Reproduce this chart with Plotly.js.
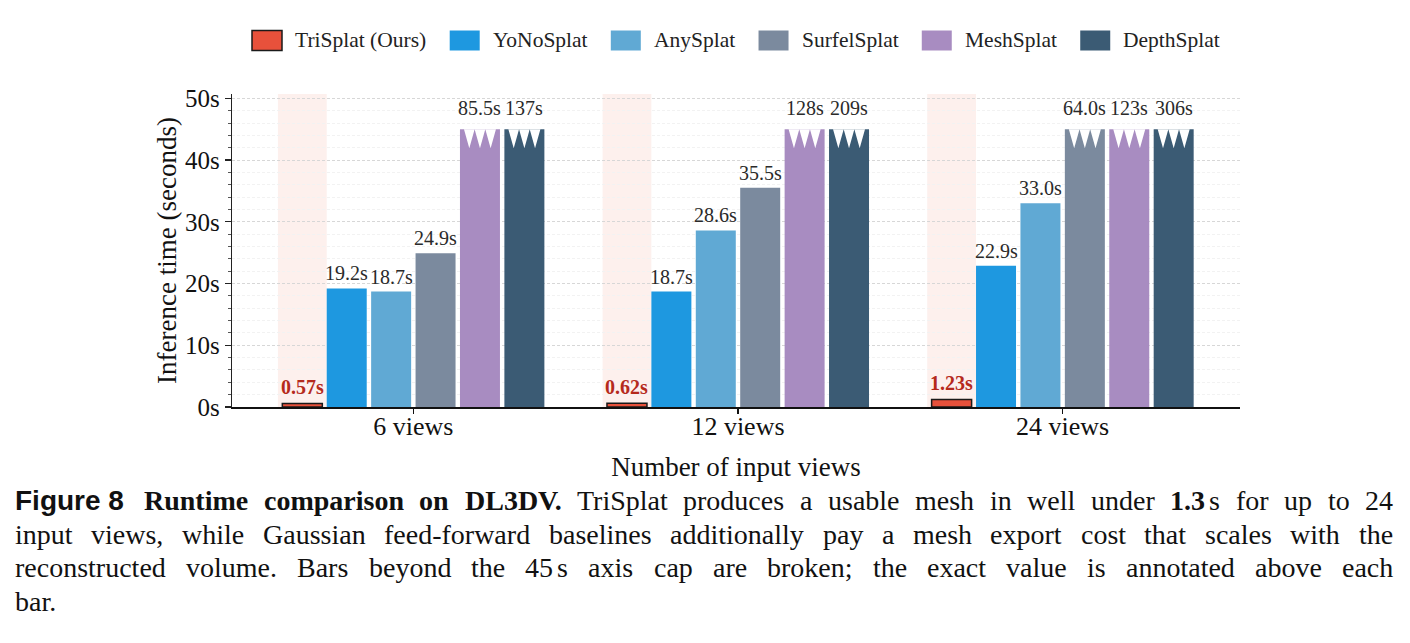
<!DOCTYPE html>
<html>
<head>
<meta charset="utf-8">
<script src="https://cdn.plot.ly/plotly-3.0.1.min.js"></script>
<style>
  html, body { margin: 0; padding: 0; background: #ffffff; }
  #chart { width: 1410px; height: 643px; }
</style>
</head>
<body>
<div id="chart"></div>
<script>
// ---- data -------------------------------------------------------------
const categories = ['6 views', '12 views', '24 views'];
const methods = ['TriSplat (Ours)', 'YoNoSplat', 'AnySplat', 'SurfelSplat', 'MeshSplat', 'DepthSplat'];
const triSplat    = [0.57, 0.62, 1.23];
const yoNoSplat   = [19.2, 18.7, 22.9];
const anySplat    = [18.7, 28.6, 33.0];
const surfelSplat = [24.9, 35.5, 64.0];
const meshSplat   = [85.5, 128, 123];
const depthSplat  = [137, 209, 306];
const yTickVals = [0, 10, 20, 30, 40, 50];
const yTickText = ['0s', '10s', '20s', '30s', '40s', '50s'];
const axisCap = 45;

const captionLines = [
  [
    { t: 'Figure 8', f: 'sansBold' },
    { t: 'Runtime', f: 'serifBold', gap: 'wide' },
    { t: 'comparison', f: 'serifBold' },
    { t: 'on', f: 'serifBold' },
    { t: 'DL3DV.', f: 'serifBold' },
    'TriSplat', 'produces', 'a', 'usable', 'mesh', 'in', 'well', 'under',
    { t: '1.3', f: 'serifBold' },
    { t: 's', gap: 'thin' },
    'for', 'up', 'to', '24'
  ],
  'input views, while Gaussian feed-forward baselines additionally pay a mesh export cost that scales with the'.split(' '),
  [
    'reconstructed', 'volume.', 'Bars', 'beyond', 'the', '45', { t: 's', gap: 'thin' }, 'axis', 'cap',
    'are', 'broken;', 'the', 'exact', 'value', 'is', 'annotated', 'above', 'each'
  ],
  ['bar.']
];

// ---- styling ----------------------------------------------------------
const seriesValues = [triSplat, yoNoSplat, anySplat, surfelSplat, meshSplat, depthSplat];
const colors = ['#e8513b', '#1e98e0', '#60a9d4', '#7b8a9e', '#a88cc1', '#3b5b74'];
const SERIF = '"Liberation Serif", "Times New Roman", serif';
const SANS = '"Liberation Sans", Arial, sans-serif';

const W = 1410, H = 643;
const M = { l: 232, r: 170, t: 94, b: 236 };
const plotW = W - M.l - M.r, plotH = H - M.t - M.b;
const px2x = px => (px - M.l) / plotW;
const py2y = py => (H - M.b - py) / plotH;

// bar geometry in category units
const barWidth = 0.1232;
const barPitch = 0.1368;
const firstOffset = -0.4035;
const offsetOf = i => firstOffset + i * barPitch;

function fmtSeconds(v) {
  if (v < 10) return v.toFixed(2) + 's';
  if (v < 100) return v.toFixed(1) + 's';
  return Math.round(v) + 's';
}

// ---- traces -----------------------------------------------------------
const traces = methods.map((name, i) => ({
  type: 'bar',
  name: name,
  x: categories,
  y: seriesValues[i].map(v => Math.min(v, axisCap)),
  offset: offsetOf(i),
  width: barWidth,
  marker: {
    color: colors[i],
    line: i === 0 ? { color: '#1a1a1a', width: 1.5 } : { width: 0 }
  },
  showlegend: false,
  hoverinfo: 'skip'
}));

// ---- shapes -----------------------------------------------------------
const shapes = [];
// soft highlight behind our method
categories.forEach((c, k) => {
  shapes.push({
    type: 'rect', layer: 'below', xref: 'x', yref: 'paper',
    x0: k + offsetOf(0) - 0.0135, x1: k + offsetOf(0) + barWidth + 0.0135,
    y0: 0, y1: 1,
    fillcolor: '#fdf0ed', line: { width: 0 }
  });
});
// broken-bar zigzag for values beyond the cap
const notchDepth = 3.1;
seriesValues.forEach((vals, i) => {
  vals.forEach((v, k) => {
    if (v <= axisCap) return;
    const x0 = k + offsetOf(i);
    const inset = barWidth * 0.1;
    const a = x0 + inset, b = x0 + barWidth - inset;
    const step = (b - a) / 3;
    let p = `M ${a} ${axisCap}`;
    for (let n = 0; n < 3; n++) {
      p += ` L ${a + step * (n + 0.5)} ${axisCap - notchDepth} L ${a + step * (n + 1)} ${axisCap}`;
    }
    p += ' Z';
    shapes.push({
      type: 'path', layer: 'above', xref: 'x', yref: 'y', path: p,
      fillcolor: '#ffffff', line: { width: 0 }
    });
  });
});

// ---- value labels -----------------------------------------------------
const annotations = [];
seriesValues.forEach((vals, i) => {
  vals.forEach((v, k) => {
    const capped = v > axisCap;
    annotations.push({
      xref: 'x', yref: 'y',
      x: k + offsetOf(i) + barWidth / 2,
      y: Math.min(v, axisCap),
      text: i === 0 ? '<b>' + fmtSeconds(v) + '</b>' : fmtSeconds(v),
      showarrow: false, xanchor: 'center', yanchor: 'middle',
      yshift: capped ? 21 : (i === 0 ? 16 : 15),
      borderpad: 0, borderwidth: 0,
      font: { family: SERIF, size: 20, color: i === 0 ? '#b52a1c' : '#2a2a2a' }
    });
  });
});

// ---- text measurement (legend and justified caption) ------------------
const ctx = document.createElement('canvas').getContext('2d');
function textWidth(text, css) { ctx.font = css; return ctx.measureText(text).width; }

// legend row
const legendFont = 21.5;
let lx = 252;
methods.forEach((name, i) => {
  shapes.push({
    type: 'rect', xref: 'paper', yref: 'paper', layer: 'above',
    x0: px2x(lx), x1: px2x(lx + 30), y0: py2y(50.5), y1: py2y(30.5),
    fillcolor: colors[i],
    line: i === 0 ? { color: '#1a1a1a', width: 1.5 } : { width: 0 }
  });
  const tx = lx + 43;
  annotations.push({
    xref: 'paper', yref: 'paper', x: px2x(tx), y: py2y(40.5),
    text: name, showarrow: false, xanchor: 'left', yanchor: 'middle',
    borderpad: 0, borderwidth: 0,
    font: { family: SERIF, size: legendFont, color: '#222222' }
  });
  lx = tx + textWidth(name, `${legendFont}px "Liberation Serif"`) + 23.5;
});

// caption, justified between fixed margins
const capSize = 28;
const capFonts = {
  serif: { css: `${capSize}px "Liberation Serif"`, family: SERIF, weight: 'normal' },
  serifBold: { css: `bold ${capSize}px "Liberation Serif"`, family: SERIF, weight: 'bold' },
  sansBold: { css: `bold ${capSize}px "Liberation Sans"`, family: SANS, weight: 'bold' }
};
const capLeft = 15, capRight = 1393;
const capCenters = [500.5, 534, 567.5, 601];
captionLines.forEach((line, li) => {
  const toks = line.map(t => typeof t === 'string' ? { t: t } : t);
  const widths = toks.map(t => textWidth(t.t, capFonts[t.f || 'serif'].css));
  const justify = li < captionLines.length - 1;
  let fixed = 0, stretch = 0;
  toks.forEach((t, j) => {
    if (j === 0) return;
    if (t.gap === 'wide') fixed += 20;
    else if (t.gap === 'thin') fixed += 4;
    else stretch += 1;
  });
  const total = widths.reduce((s, w) => s + w, 0);
  const spaceW = justify ? (capRight - capLeft - total - fixed) / stretch : 7;
  let x = capLeft;
  toks.forEach((t, j) => {
    if (j > 0) x += t.gap === 'wide' ? 20 : (t.gap === 'thin' ? 4 : spaceW);
    const f = capFonts[t.f || 'serif'];
    annotations.push({
      xref: 'paper', yref: 'paper', x: px2x(x), y: py2y(capCenters[li]),
      text: f.weight === 'bold' ? '<b>' + t.t + '</b>' : t.t,
      showarrow: false, xanchor: 'left', yanchor: 'middle',
      borderpad: 0, borderwidth: 0,
      font: { family: f.family, size: capSize, color: '#111111' }
    });
    x += widths[j];
  });
});

// ---- layout -----------------------------------------------------------
const layout = {
  width: W, height: H,
  margin: M,
  paper_bgcolor: '#ffffff', plot_bgcolor: '#ffffff',
  barmode: 'overlay',
  showlegend: false,
  font: { family: SERIF, color: '#111111' },
  xaxis: {
    type: 'category',
    range: [-0.5585, 2.5464],
    showline: true, linecolor: '#111111', linewidth: 1.5,
    ticks: 'outside', ticklen: 5, tickwidth: 1.2, tickcolor: '#111111',
    ticklabelstandoff: -10,
    showgrid: false, zeroline: false,
    tickfont: { family: SERIF, size: 26, color: '#111111' },
    title: { text: 'Number of input views', font: { family: SERIF, size: 27, color: '#111111' }, standoff: 17 }
  },
  yaxis: {
    range: [0, 50.7],
    tickvals: yTickVals, ticktext: yTickText,
    showline: true, linecolor: '#222222', linewidth: 1.2,
    ticks: 'outside', ticklen: 6, tickwidth: 1.2, tickcolor: '#222222',
    showgrid: true, gridcolor: '#cfcfcf', gridwidth: 0.8, griddash: '3px,2px',
    zeroline: false,
    minor: { dtick: 2, ticks: 'outside', ticklen: 3, tickwidth: 1, tickcolor: '#555555',
             showgrid: true, gridcolor: '#f2f2f2', gridwidth: 1 },
    tickfont: { family: SERIF, size: 25, color: '#111111' },
    title: { text: 'Inference time (seconds)', font: { family: SERIF, size: 27, color: '#111111' }, standoff: 0 }
  },
  shapes: shapes,
  annotations: annotations
};

Plotly.newPlot('chart', traces, layout, { displayModeBar: false, staticPlot: true });
</script>
</body>
</html>
